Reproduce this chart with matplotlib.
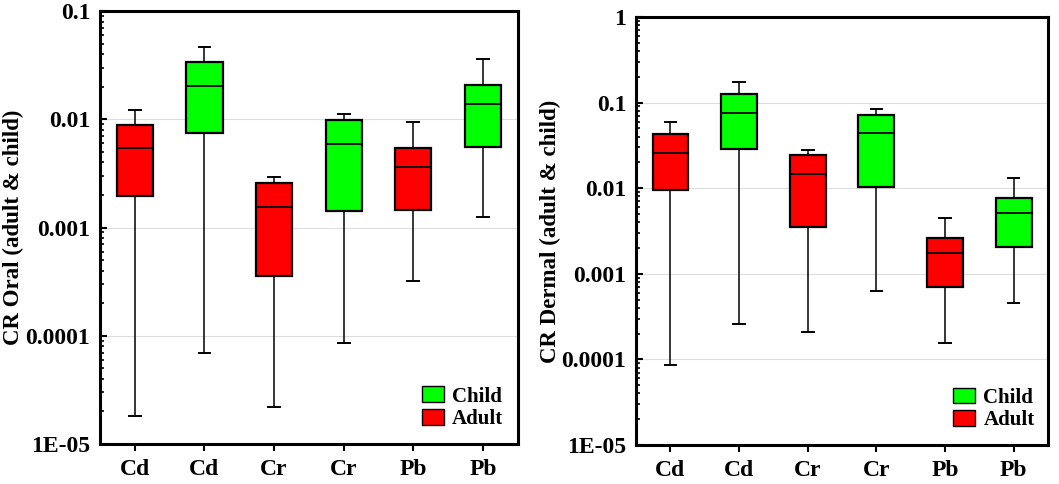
import numpy as np
import matplotlib.pyplot as plt
from matplotlib.patches import Patch
from matplotlib.ticker import LogLocator, NullFormatter, FixedLocator, FixedFormatter

plt.rcParams['font.family'] = ['Liberation Serif', 'DejaVu Serif']
plt.rcParams['font.weight'] = 'bold'

# categories (adult, child alternating)
labels = ['Cd', 'Cd', 'Cr', 'Cr', 'Pb', 'Pb']
groups = ['Adult', 'Child', 'Adult', 'Child', 'Adult', 'Child']

# CR Oral: whisker low, Q1, median, Q3, whisker high
oral_wlo = [1.8e-5, 6.9e-5, 2.2e-5, 8.6e-5, 3.2e-4, 1.25e-3]
oral_q1 = [1.97e-3, 7.5e-3, 3.6e-4, 1.41e-3, 1.45e-3, 5.6e-3]
oral_med = [5.4e-3, 2.05e-2, 1.54e-3, 5.9e-3, 3.6e-3, 1.39e-2]
oral_q3 = [8.8e-3, 3.4e-2, 2.57e-3, 9.8e-3, 5.4e-3, 2.06e-2]
oral_whi = [1.22e-2, 4.7e-2, 2.92e-3, 1.12e-2, 9.4e-3, 3.6e-2]

# CR Dermal
derm_wlo = [8.6e-5, 2.6e-4, 2.1e-4, 6.3e-4, 1.57e-4, 4.6e-4]
derm_q1 = [9.5e-3, 2.83e-2, 3.5e-3, 1.03e-2, 7.0e-4, 2.05e-3]
derm_med = [2.58e-2, 7.6e-2, 1.48e-2, 4.4e-2, 1.73e-3, 5.15e-3]
derm_q3 = [4.27e-2, 1.25e-1, 2.47e-2, 7.2e-2, 2.59e-3, 7.6e-3]
derm_whi = [5.85e-2, 1.74e-1, 2.8e-2, 8.3e-2, 4.5e-3, 1.33e-2]

colors = {'Adult': '#ff0000', 'Child': '#00ff00'}


def draw_panel(ax, wlo, q1, med, q3, whi, ylim, ticks, ticklabels, ylabel):
    stats = []
    for i in range(len(labels)):
        stats.append({'whislo': wlo[i], 'q1': q1[i], 'med': med[i],
                      'q3': q3[i], 'whishi': whi[i], 'fliers': []})
    pos = np.arange(1, len(labels) + 1)
    bp = ax.bxp(stats, positions=pos, widths=0.52, capwidths=0.17,
                patch_artist=True, showfliers=False,
                boxprops=dict(edgecolor='black', linewidth=1.6),
                medianprops=dict(color='black', linewidth=1.3),
                whiskerprops=dict(color='black', linewidth=1.1),
                capprops=dict(color='black', linewidth=1.4))
    for patch, g in zip(bp['boxes'], groups):
        patch.set_facecolor(colors[g])
    ax.set_yscale('log')
    ax.set_ylim(*ylim)
    ax.set_xlim(0.5, 6.5)
    ax.yaxis.set_major_locator(FixedLocator(ticks))
    ax.yaxis.set_major_formatter(FixedFormatter(ticklabels))
    ax.yaxis.set_minor_locator(LogLocator(base=10, subs=np.arange(2, 10)))
    ax.yaxis.set_minor_formatter(NullFormatter())
    ax.grid(axis='y', which='major', color='#dddddd', linewidth=0.8)
    ax.set_axisbelow(True)
    ax.set_xticks(pos)
    ax.set_xticklabels(labels)
    ax.tick_params(axis='y', which='major', direction='in', length=5, width=1.5,
                   labelsize=17, pad=7)
    ax.tick_params(axis='y', which='minor', direction='in', length=3, width=1.2)
    ax.tick_params(axis='x', direction='out', length=5, width=1.5, labelsize=17, pad=6)
    for sp in ax.spines.values():
        sp.set_linewidth(2.2)
    ax.set_ylabel(ylabel, fontsize=16.5, fontweight='bold')
    ax.yaxis.set_label_coords(-0.182, 0.5)
    handles = [Patch(facecolor=colors['Child'], edgecolor='black', label='Child'),
               Patch(facecolor=colors['Adult'], edgecolor='black', label='Adult')]
    ax.legend(handles=handles, loc='lower left', bbox_to_anchor=(0.77, 0.035),
              borderaxespad=0, borderpad=0,
              frameon=False, fontsize=15, handlelength=1.05, handleheight=0.8,
              handletextpad=0.4, labelspacing=0.1)


fig = plt.figure(figsize=(10.59, 4.84), dpi=100)
ax1 = fig.add_axes([0.0944, 0.0826, 0.3946, 0.8946])
ax2 = fig.add_axes([0.6006, 0.0806, 0.389, 0.8844])

draw_panel(ax1, oral_wlo, oral_q1, oral_med, oral_q3, oral_whi,
           (1e-5, 0.1), [1e-5, 1e-4, 1e-3, 1e-2, 1e-1],
           ['1E-05', '0.0001', '0.001', '0.01', '0.1'],
           'CR Oral (adult & child)')
draw_panel(ax2, derm_wlo, derm_q1, derm_med, derm_q3, derm_whi,
           (1e-5, 1), [1e-5, 1e-4, 1e-3, 1e-2, 1e-1, 1],
           ['1E-05', '0.0001', '0.001', '0.01', '0.1', '1'],
           'CR Dermal (adult & child)')

fig.savefig('out.png', dpi=100)
